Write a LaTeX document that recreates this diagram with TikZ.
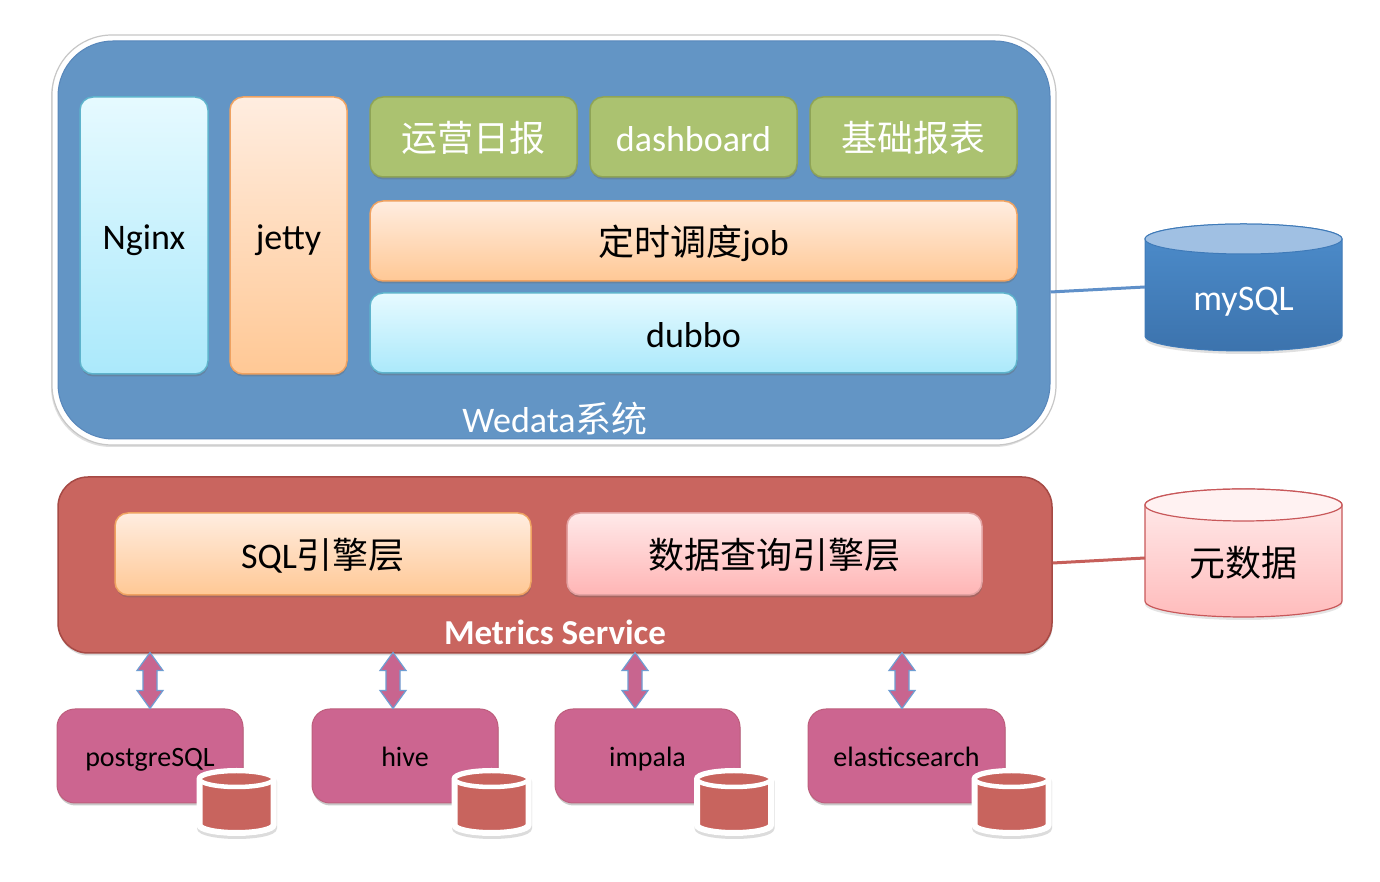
\documentclass[tikz,border=0pt]{standalone}
\usepackage{fontspec}
\setmainfont{Carlito}
\newfontfamily\cjk{Noto Sans CJK SC}
\usetikzlibrary{shadows}
\definecolor{wblue}{HTML}{6395C5}
\definecolor{wline}{HTML}{5786BA}
\definecolor{cyTop}{HTML}{E6FAFF}
\definecolor{cyBot}{HTML}{ABE9FB}
\definecolor{cyLine}{HTML}{5EB3CC}
\definecolor{peTop}{HTML}{FFEDE0}
\definecolor{peBot}{HTML}{FFC895}
\definecolor{peLine}{HTML}{EFA261}
\definecolor{grFill}{HTML}{ABC270}
\definecolor{grLine}{HTML}{8FA456}
\definecolor{piTop}{HTML}{FFE9E9}
\definecolor{piBot}{HTML}{FFB5B5}
\definecolor{piLine}{HTML}{E3A2A2}
\definecolor{msFill}{HTML}{C9655F}
\definecolor{msLine}{HTML}{A64A45}
\definecolor{magFill}{HTML}{CC6590}
\definecolor{magLine}{HTML}{BD5E7C}
\definecolor{arrFill}{HTML}{C8658F}
\definecolor{arrLine}{HTML}{6F9ED3}
\definecolor{myTop}{HTML}{4D8DCC}
\definecolor{myBot}{HTML}{3C73AD}
\definecolor{myEnd}{HTML}{A0C0E3}
\definecolor{myLine}{HTML}{3F7AB8}
\definecolor{mdTop}{HTML}{FFEDED}
\definecolor{mdBot}{HTML}{FFBCBC}
\definecolor{mdEnd}{HTML}{FFF2F2}
\definecolor{mdLine}{HTML}{C8585A}
\definecolor{cylred}{HTML}{C8645E}
\definecolor{bline}{HTML}{5F90C9}
\definecolor{rline}{HTML}{C65F5A}
\newcommand\fs[1]{\fontsize{#1}{#1}\selectfont}
% cx rx Ytop Ybot ry style
\newcommand\drawcyl[6]{\path[#6] ({#1-#2},{#3-#5}) -- ({#1-#2},{#4+#5}) arc[start angle=180,end angle=360,x radius=#2pt,y radius=#5pt] -- ({#1+#2},{#3-#5}) arc[start angle=0,end angle=180,x radius=#2pt,y radius=#5pt] -- cycle;}
\newcommand\drawcyltop[6]{\path[#6] (#1,{#3-#5}) ellipse[x radius=#2pt, y radius=#5pt];}
\begin{document}
\begin{tikzpicture}[x=1pt,y=1pt,
  box/.style={rounded corners=13pt, inner sep=0pt, line width=1.5pt, font=\fs{36}, text height=36pt, text depth=7pt,
    drop shadow={shadow xshift=0.5pt,shadow yshift=-2.5pt,opacity=0.35,fill=black!60}},
  cyan box/.style={box, top color=cyTop, bottom color=cyBot, draw=cyLine},
  peach box/.style={box, top color=peTop, bottom color=peBot, draw=peLine},
  green box/.style={box, fill=grFill, draw=grLine, text=white},
  pink box/.style={box, top color=piTop, bottom color=piBot, draw=piLine},
  mag box/.style={box, rounded corners=18pt, fill=magFill, draw=magLine, line width=1pt, font=\fs{28}, text height=28pt, text depth=6pt},
  dbarr/.pic={\path[fill=arrFill, draw=arrLine, line width=1.2pt] (0,0) -- (13,18) -- (7,18) -- (7,38) -- (13,38) -- (0,56) -- (-13,38) -- (-7,38) -- (-7,18) -- (-13,18) -- cycle;},
  cylshadow/.style={fill=black!30, draw=black!30, opacity=0.45, line width=6pt},
  smallcyl/.style={fill=cylred, draw=white, line width=6pt},
]
\useasboundingbox (0,0) rectangle (1380,882);
\fill[white] (0,0) rectangle (1380,882);

% ---------- Wedata system ----------
\node[rounded corners=60pt, minimum width=1004pt, minimum height=410pt, inner sep=0pt, fill=white, draw=black!22, line width=1.2pt,
  drop shadow={shadow xshift=-1pt,shadow yshift=-2pt,opacity=0.25}] (halo) at (554,642) {};
\node[rounded corners=55pt, minimum width=992pt, minimum height=398pt, inner sep=0pt, fill=wblue, draw=wline, line width=1pt] (wedata) at (554,642) {};

\node[cyan box, minimum width=128pt, minimum height=277pt] (nginx) at (144,646.5) {Nginx};
\node[peach box, minimum width=117pt, minimum height=277pt] (jetty) at (288.5,646.5) {jetty};
\node[green box, minimum width=207pt, minimum height=80pt] (yy) at (473.5,745) {{\cjk 运营日报}};
\node[green box, minimum width=207pt, minimum height=80pt] (dash) at (693.5,745) {dashboard};
\node[green box, minimum width=207pt, minimum height=80pt] (jc) at (913.5,745) {{\cjk 基础报表}};
\node[peach box, minimum width=647pt, minimum height=80pt] (job) at (693.5,641) {{\cjk 定时调度}job};
\node[cyan box, minimum width=647pt, minimum height=80pt] (dubbo) at (693.5,549) {dubbo};
\node[text=white, inner sep=0pt, font=\fs{36}] (wlabel) at (555,463) {Wedata{\cjk 系统}};

% ---------- mySQL ----------
\begin{scope}[yshift=-3pt]
\drawcyl{1243.5}{98.5}{658}{531}{15}{fill=black!30, opacity=0.4}
\end{scope}
\drawcyl{1243.5}{98.5}{658}{531}{15}{top color=myTop, bottom color=myBot, draw=myLine, line width=1pt}
\drawcyltop{1243.5}{98.5}{658}{531}{15}{fill=myEnd, draw=myLine, line width=1pt}
\node[text=white, inner sep=0pt, font=\fs{36}] (mysql) at (1243.5,580) {mySQL};
\coordinate (mysqlW) at (1145,595);
\draw[bline, line width=3pt] (wedata.east |- 0,590) -- (mysqlW);

% ---------- Metrics Service ----------
\node[rounded corners=30pt, minimum width=994pt, minimum height=176pt, inner sep=0pt, fill=msFill, draw=msLine, line width=1.5pt,
  drop shadow={shadow xshift=0.5pt,shadow yshift=-2.5pt,opacity=0.3}] (ms) at (555,317) {};
\node[peach box, minimum width=416pt, minimum height=82pt] (sql) at (323,328) {SQL{\cjk 引擎层}};
\node[pink box, minimum width=415pt, minimum height=82pt] (query) at (774.5,328) {{\cjk 数据查询引擎层}};
\node[text=white, inner sep=0pt, font=\bfseries\fs{35}] (mslabel) at (555,250) {Metrics Service};

% ---------- metadata ----------
\begin{scope}[yshift=-3pt]
\drawcyl{1243.5}{98.5}{393}{265}{16}{fill=black!30, opacity=0.35}
\end{scope}
\drawcyl{1243.5}{98.5}{393}{265}{16}{top color=mdTop, bottom color=mdBot, draw=mdLine, line width=1.2pt}
\drawcyltop{1243.5}{98.5}{393}{265}{16}{fill=mdEnd, draw=mdLine, line width=1.2pt}
\node[inner sep=0pt, font=\fs{36}\cjk] (meta) at (1243.5,319) {元数据};
\coordinate (metaW) at (1145,324);
\draw[rline, line width=3pt] (ms.east |- 0,319) -- (metaW);

% ---------- engines ----------
\node[mag box, minimum width=186pt, minimum height=94pt] (pg) at (150,126) {postgreSQL};
\node[mag box, minimum width=186pt, minimum height=94pt] (hv) at (405,126) {hive};
\node[mag box, minimum width=185pt, minimum height=94pt] (im) at (647.5,126) {impala};
\node[mag box, minimum width=197pt, minimum height=94pt] (es) at (906.5,126) {elasticsearch};

\coordinate (a1) at (pg.north);
\coordinate (a2) at ([xshift=-12pt]hv.north);
\coordinate (a3) at ([xshift=-12.5pt]im.north);
\coordinate (a4) at ([xshift=-4.5pt]es.north);
\foreach \a in {a1,a2,a3,a4} { \pic at (\a) {dbarr}; }

\foreach \cx in {236.5,491.5,734,1011.5} {
  \begin{scope}[yshift=-3pt, xshift=0.5pt]
  \drawcyl{\cx}{37}{111}{49}{8}{cylshadow}
  \end{scope}
  \drawcyl{\cx}{37}{111}{49}{8}{smallcyl}
  \drawcyltop{\cx}{37}{111}{49}{8}{fill=cylred, draw=white, line width=4.5pt}
}
\end{tikzpicture}
\end{document}
